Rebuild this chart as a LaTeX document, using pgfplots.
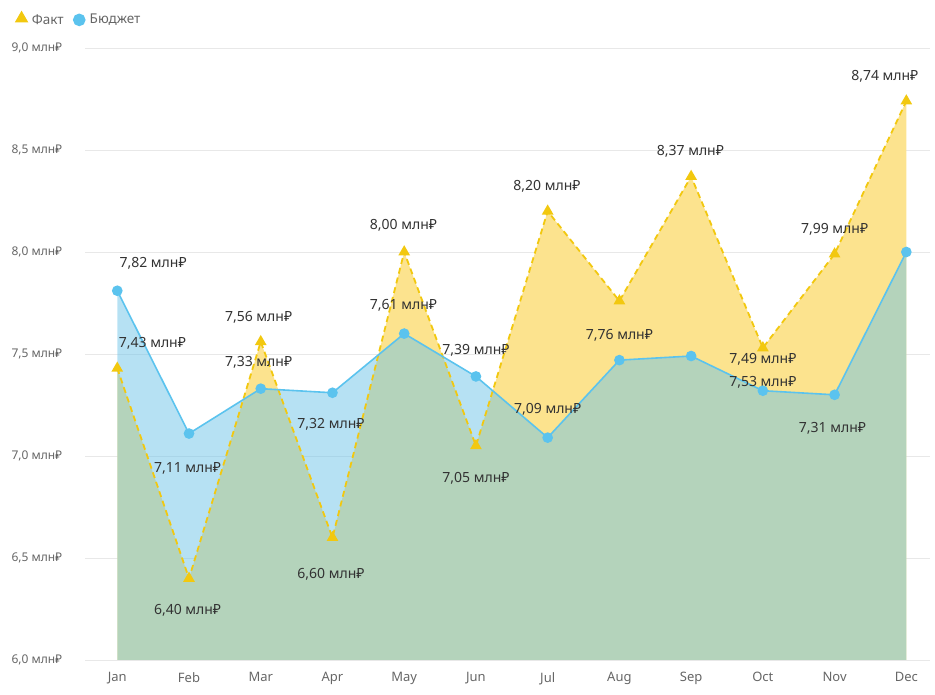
\documentclass[border=0pt]{standalone}
\usepackage{fontspec}
\setmainfont{Noto Sans}
\usepackage{pgfplots}
\pgfplotsset{compat=1.18}
\definecolor{faktline}{HTML}{F2C80F}
\definecolor{budline}{HTML}{5BC3EE}
\definecolor{faktfill}{HTML}{FCE38E}
\definecolor{budfill}{HTML}{6EC4E8}
\definecolor{lbl}{HTML}{333333}
\definecolor{tick}{HTML}{666666}
\begin{document}
\begin{tikzpicture}
\path[use as bounding box] (0,0) rectangle (935pt,695pt);
\begin{axis}[
  at={(85pt,35pt)}, anchor=south west,
  scale only axis, width=845pt, height=612pt,
  xmin=-0.45, xmax=11.33, ymin=6, ymax=9,
  axis line style={draw=none},
  tick style={draw=none},
  ytick={6,6.5,7,7.5,8,8.5,9},
  yticklabels={{6,0 млн₽},{6,5 млн₽},{7,0 млн₽},{7,5 млн₽},{8,0 млн₽},{8,5 млн₽},{9,0 млн₽}},
  yticklabel style={anchor=west, xshift=-77pt, font=\fontsize{12}{14}\selectfont, text=tick},
  xtick={0,...,11},
  xticklabels={Jan,Feb,Mar,Apr,May,Jun,Jul,Aug,Sep,Oct,Nov,Dec},
  xticklabel style={yshift=-9pt, font=\fontsize{13}{15}\selectfont, text=tick},
  ymajorgrids, grid style={draw=black!9, line width=0.8pt},
  legend style={at={(-0.085,1.062)}, anchor=north west, draw=none, fill=none,
    font=\fontsize{13.5}{15}\selectfont\color{tick}, legend columns=2,
    /tikz/every odd column/.append style={column sep=3pt},
    /tikz/every even column/.append style={column sep=8pt}},
  legend cell align=left,
  clip=false,
]
% areas
\addplot[draw=none, fill=faktfill, forget plot] coordinates {
(0,7.43) (1,6.40) (2,7.56) (3,6.60) (4,8.00) (5,7.05) (6,8.20) (7,7.76) (8,8.37) (9,7.53) (10,7.99) (11,8.74)} \closedcycle;
\addplot[draw=none, fill=budfill, fill opacity=0.5, forget plot] coordinates {
(0,7.81) (1,7.11) (2,7.33) (3,7.31) (4,7.60) (5,7.39) (6,7.09) (7,7.47) (8,7.49) (9,7.32) (10,7.30) (11,8.00)} \closedcycle;
% lines
\addplot[faktline, line width=1.8pt, dashed, dash pattern=on 6pt off 4pt, mark=triangle*, mark size=5pt, mark options={solid, fill=faktline, draw=faktline},
  legend image code/.code={\draw[only marks, mark=triangle*, mark size=6pt, faktline, fill=faktline] plot coordinates {(0.05cm,0.05cm)};}] coordinates {
(0,7.43) (1,6.40) (2,7.56) (3,6.60) (4,8.00) (5,7.05) (6,8.20) (7,7.76) (8,8.37) (9,7.53) (10,7.99) (11,8.74)};
\addlegendentry{Факт}
\addplot[budline, line width=1.6pt, mark=*, mark size=4.5pt, mark options={fill=budline, draw=budline},
  legend image code/.code={\draw[only marks, mark=*, mark size=5.5pt, budline, fill=budline] plot coordinates {(0.05cm,0cm)};}] coordinates {
(0,7.81) (1,7.11) (2,7.33) (3,7.31) (4,7.60) (5,7.39) (6,7.09) (7,7.47) (8,7.49) (9,7.32) (10,7.30) (11,8.00)};
\addlegendentry{Бюджет}
% data labels
\begin{scope}[every node/.style={font=\fontsize{14}{16}\selectfont, text=lbl, inner sep=0pt}]
\node at (axis cs:0.5,7.946) {7,82 млн₽};
\node at (axis cs:0.49,7.554) {7,43 млн₽};
\node at (axis cs:0.98,6.94) {7,11 млн₽};
\node at (axis cs:0.98,6.245) {6,40 млн₽};
\node at (axis cs:1.97,7.68) {7,56 млн₽};
\node at (axis cs:1.97,7.46) {7,33 млн₽};
\node at (axis cs:2.98,7.157) {7,32 млн₽};
\node at (axis cs:2.98,6.42) {6,60 млн₽};
\node at (axis cs:3.99,8.13) {8,00 млн₽};
\node at (axis cs:3.99,7.74) {7,61 млн₽};
\node at (axis cs:5.0,7.52) {7,39 млн₽};
\node at (axis cs:5.0,6.89) {7,05 млн₽};
\node at (axis cs:5.99,8.32) {8,20 млн₽};
\node at (axis cs:6.0,7.23) {7,09 млн₽};
\node at (axis cs:7.0,7.59) {7,76 млн₽};
\node at (axis cs:7.99,8.495) {8,37 млн₽};
\node at (axis cs:9.0,7.475) {7,49 млн₽};
\node at (axis cs:9.0,7.36) {7,53 млн₽};
\node at (axis cs:9.97,7.137) {7,31 млн₽};
\node at (axis cs:10.0,8.11) {7,99 млн₽};
\node at (axis cs:10.7,8.86) {8,74 млн₽};
\end{scope}
\end{axis}
\end{tikzpicture}
\end{document}
